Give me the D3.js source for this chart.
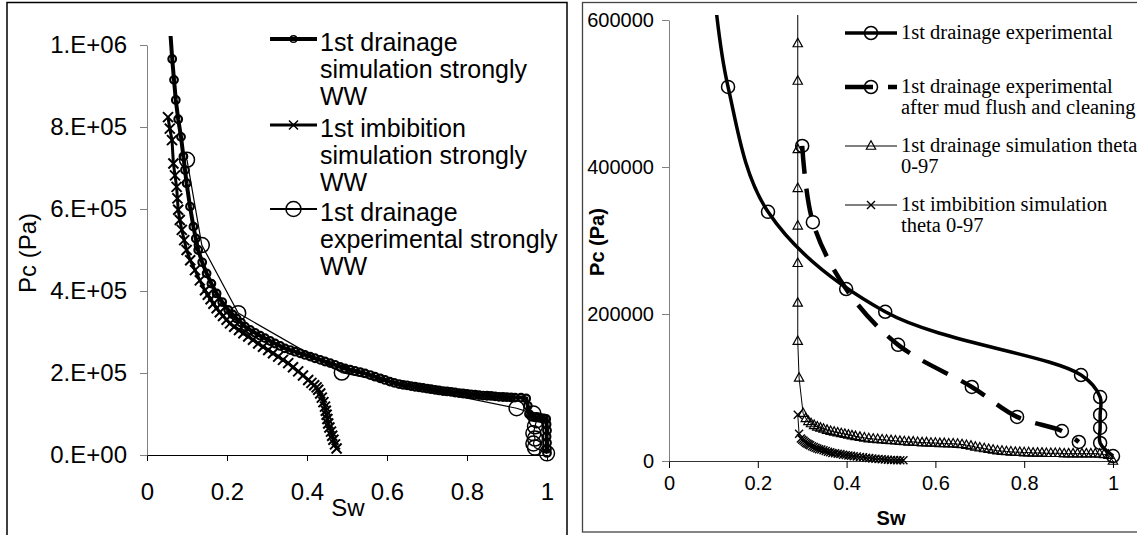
<!DOCTYPE html>
<html>
<head>
<meta charset="utf-8">
<script src="https://cdn.jsdelivr.net/npm/d3@7"></script>
<style>
  body { margin: 0; background: #fff; }
  svg { display: block; }
</style>
</head>
<body>
<script>
let width = 1137, height = 535

// ---- left chart (strongly water wet) ----
let leftXTicks = [0, 0.2, 0.4, 0.6, 0.8, 1]
let leftYTicks = [0, 200000, 400000, 600000, 800000, 1000000]
// [Sw, Pc]
let leftDrainSim = [
    [0.057, 1050000], [0.063, 966000], [0.0675, 915000], [0.072, 866000], [0.078, 819000],
    [0.085, 776000], [0.091, 728000], [0.095, 695000], [0.099, 663000], [0.1075, 606000],
    [0.116, 557000], [0.122, 528000], [0.128, 500000], [0.138, 470000], [0.149, 443000],
    [0.161, 418000], [0.174, 394000], [0.188, 373000], [0.203, 354000], [0.214, 343000],
    [0.224, 333000], [0.235, 323000], [0.245, 313000], [0.258, 305000], [0.27, 298000],
    [0.283, 291000], [0.295, 285000], [0.308, 278000], [0.32, 272000], [0.333, 266000],
    [0.345, 260000], [0.358, 256000], [0.37, 252000], [0.383, 248000], [0.395, 244000],
    [0.408, 240000], [0.42, 236000], [0.433, 232000], [0.445, 228000], [0.458, 224000],
    [0.47, 220000], [0.483, 215000], [0.495, 211000], [0.508, 208000], [0.52, 205000],
    [0.533, 202000], [0.545, 199000], [0.558, 195000], [0.57, 191000], [0.583, 187000],
    [0.595, 183000], [0.607, 179000], [0.618, 176000], [0.63, 173000], [0.64, 171000],
    [0.65, 170000], [0.66, 168000], [0.67, 166500], [0.68, 165000], [0.69, 163500],
    [0.70, 162000], [0.71, 160500], [0.72, 159000], [0.73, 157500], [0.74, 156000],
    [0.75, 155000], [0.76, 154000], [0.77, 152500], [0.78, 151000], [0.79, 150000],
    [0.80, 149000], [0.81, 148000], [0.82, 147000], [0.83, 146000], [0.84, 145000],
    [0.85, 144500], [0.86, 144000], [0.87, 143000], [0.88, 142000], [0.89, 141500],
    [0.90, 141000], [0.91, 140500], [0.92, 140000], [0.935, 140000], [0.948, 138000],
    [0.952, 120000], [0.955, 100000], [0.962, 94000], [0.97, 92000], [0.978, 91000],
    [0.985, 90000], [0.992, 89000], [0.998, 88000], [0.999, 75000], [1.0, 60000],
    [0.999, 45000], [1.0, 30000], [1.0, 15000], [1.0, 5000]
]
let leftImbSim = [
    [0.0525, 824000], [0.057, 796000], [0.0625, 768000], [0.066, 711000], [0.07, 682000],
    [0.074, 654000], [0.076, 626000], [0.078, 598000], [0.082, 573000], [0.087, 549000],
    [0.093, 524000], [0.099, 500000], [0.108, 475000], [0.12, 451000], [0.132, 426000],
    [0.145, 402000], [0.152, 391000], [0.159, 380000], [0.166, 369000], [0.174, 358000],
    [0.182, 348000], [0.19, 339000], [0.199, 330000], [0.2075, 321000], [0.218, 313000],
    [0.23, 305000], [0.241, 297000], [0.253, 289000], [0.265, 281000], [0.278, 272000],
    [0.29, 264000], [0.303, 256000], [0.315, 248000], [0.328, 240000], [0.34, 232000],
    [0.353, 224000], [0.365, 214000], [0.378, 204000], [0.39, 194000], [0.403, 183000],
    [0.411, 176000], [0.418, 170000], [0.424, 165000], [0.428, 159000], [0.433, 150000],
    [0.437, 140000], [0.441, 129000], [0.445, 118000], [0.447, 108000], [0.449, 98000],
    [0.451, 88000], [0.453, 77000], [0.456, 67000], [0.46, 57000], [0.463, 47000],
    [0.466, 37000], [0.47, 26000], [0.474, 16000]
]
let leftDrainExp = [
    [0.10, 720000], [0.137, 512000], [0.228, 346000], [0.487, 201000], [0.924, 114000],
    [0.966, 101000], [0.974, 85000], [0.97, 70000], [0.966, 53000], [0.97, 40000],
    [0.966, 28000], [0.97, 18000], [1.0, 4000]
]
let leftLegend = [
    ['1st drainage', 'simulation strongly', 'WW'],
    ['1st imbibition', 'simulation strongly', 'WW'],
    ['1st drainage', 'experimental strongly', 'WW']
]

// ---- right chart ----
let rightXTicks = [0, 0.2, 0.4, 0.6, 0.8, 1]
let rightYTicks = [0, 200000, 400000, 600000]
let rightDrainExp = [
    [0.1, 650000], [0.133, 509000], [0.223, 339000], [0.487, 203000], [0.928, 117000],
    [0.971, 87000], [0.971, 63000], [0.971, 45000], [0.971, 24500], [1.0, 6800]
]
let rightDrainMud = [
    [0.30, 428600], [0.324, 325000], [0.399, 234000], [0.516, 158000], [0.682, 100700],
    [0.784, 60000], [0.885, 40800], [0.923, 25900]
]
let rightDrainSim = [
    [0.29, 640000], [0.29, 568000], [0.29, 517000], [0.29, 424000], [0.29, 371000],
    [0.29, 320000], [0.29, 269000], [0.29, 215000], [0.29, 163000], [0.293, 113000],
    [0.302, 65000], [0.308, 58000], [0.314, 54000], [0.32, 51000], [0.327, 48500],
    [0.334, 46500], [0.341, 45000], [0.348, 43500], [0.356, 42000], [0.364, 40500],
    [0.372, 39500], [0.38, 38500], [0.388, 37500], [0.396, 36500], [0.404, 35500],
    [0.412, 34500], [0.42, 33500], [0.43, 32500], [0.44, 31500], [0.45, 30500],
    [0.46, 30000], [0.47, 29500], [0.48, 29000], [0.49, 28500], [0.50, 28000],
    [0.51, 27500], [0.52, 27000], [0.53, 26500], [0.54, 26000], [0.55, 26000],
    [0.56, 25500], [0.57, 25000], [0.58, 25000], [0.59, 24500], [0.60, 24500],
    [0.61, 24000], [0.62, 24000], [0.63, 23500], [0.64, 23500], [0.65, 23000],
    [0.66, 22500], [0.67, 21500], [0.68, 20500], [0.69, 19000], [0.70, 18000],
    [0.71, 17000], [0.72, 16000], [0.73, 15000], [0.74, 14000], [0.75, 13500],
    [0.76, 13000], [0.77, 12500], [0.78, 12000], [0.79, 12000], [0.80, 11500],
    [0.81, 11500], [0.82, 11000], [0.83, 11000], [0.84, 11000], [0.85, 10500],
    [0.86, 10500], [0.87, 10500], [0.88, 10500], [0.89, 10000], [0.90, 10000],
    [0.91, 10000], [0.92, 10000], [0.93, 10000], [0.94, 10000], [0.95, 10000],
    [0.96, 10000], [0.97, 9500], [0.98, 9000], [0.99, 8000], [1.0, 0]
]
let rightImbSim = [
    [0.29, 63000], [0.293, 37000], [0.297, 30500], [0.300, 29000], [0.303, 27500],
    [0.306, 26000], [0.309, 24500], [0.312, 23500], [0.315, 22500], [0.318, 21500],
    [0.322, 20000], [0.326, 19000], [0.330, 18000], [0.334, 17000], [0.338, 16000],
    [0.343, 15500], [0.348, 14500], [0.353, 13500], [0.358, 12500], [0.363, 12000],
    [0.368, 11000], [0.374, 10500], [0.380, 10000], [0.386, 9500], [0.392, 8500],
    [0.398, 8000], [0.404, 7500], [0.410, 7000], [0.416, 6500], [0.423, 6000],
    [0.430, 5500], [0.437, 5000], [0.444, 4500], [0.451, 4000], [0.458, 3500],
    [0.465, 3000], [0.472, 2700], [0.479, 2400], [0.486, 2000], [0.493, 1800],
    [0.500, 1500], [0.507, 1300], [0.514, 1100], [0.521, 1000], [0.528, 900]
]
let rightLegend = [
    ['1st drainage experimental'],
    ['1st drainage experimental', 'after mud flush and cleaning'],
    ['1st drainage simulation theta', '0-97'],
    ['1st imbibition simulation', 'theta 0-97']
]

let sans = 'Liberation Sans, Arial, sans-serif'
let serif = 'Liberation Serif, Times New Roman, serif'

let svg = d3.select('body').append('svg')
    .attr('width', width).attr('height', height)

let defs = svg.append('defs')
defs.append('clipPath').attr('id', 'clipL')
    .append('rect').attr('x', 140).attr('y', 36).attr('width', 420).attr('height', 440)
defs.append('clipPath').attr('id', 'clipR')
    .append('rect').attr('x', 660).attr('y', 15).attr('width', 470).attr('height', 460)

// panel borders
svg.append('rect').attr('x', 7).attr('y', 2.5).attr('width', 560).attr('height', 560)
    .attr('fill', 'none').attr('stroke', '#000').attr('stroke-width', 1.5)
svg.append('rect').attr('x', 582.5).attr('y', 2.5).attr('width', 600).attr('height', 529.5)
    .attr('fill', 'none').attr('stroke', '#444').attr('stroke-width', 1.3)

function sci(d) {
    if (d === 0) return '0.E+00'
    let e = Math.floor(Math.log10(d))
    let m = Math.round(d / Math.pow(10, e))
    return m + '.E+' + String(e).padStart(2, '0')
}

function marker(g, pts, m) {
    if (m.type === 'circle') {
        g.selectAll(null).data(pts).join('circle')
            .attr('cx', d => d[0]).attr('cy', d => d[1]).attr('r', m.r)
            .attr('fill', 'none').attr('stroke', '#000').attr('stroke-width', m.sw)
    } else {
        let s = m.s, p
        if (m.type === 'tri') p = `M0,${-s * 0.62}L${s * 0.55},${s * 0.38}L${-s * 0.55},${s * 0.38}Z`
        else p = `M${-s},${-s}L${s},${s}M${-s},${s}L${s},${-s}`
        g.selectAll(null).data(pts).join('path')
            .attr('transform', d => `translate(${d[0]},${d[1]})`).attr('d', p)
            .attr('fill', 'none').attr('stroke', '#000').attr('stroke-width', m.sw)
    }
}

function series(g, data, x, y, o) {
    let line = d3.line().x(d => x(d[0])).y(d => y(d[1])).curve(o.curve || d3.curveLinear)
    g.append('path').datum(data).attr('d', line)
        .attr('fill', 'none').attr('stroke', '#000').attr('stroke-width', o.w)
        .attr('stroke-dasharray', o.dash || null)
        .attr('clip-path', `url(#${o.clip})`)
    let pts = data.filter(d => d[1] <= o.ymax).map(d => [x(d[0]), y(d[1])])
    marker(g, pts, o.m)
}

function legendRow(g, x0, x1, yy, o) {
    g.append('line').attr('x1', x0).attr('x2', x1).attr('y1', yy).attr('y2', yy)
        .attr('stroke', '#000').attr('stroke-width', o.w).attr('stroke-dasharray', o.dash || null)
    marker(g, [[(x0 + x1) / 2, yy]], o.m)
}

// ================= LEFT =================
let xL = d3.scaleLinear().domain([0, 1]).range([147, 547])
let yL = d3.scaleLinear().domain([0, 1000000]).range([455, 45])

svg.append('g')
    .attr('transform', `translate(0, ${yL(0)})`)
    .call(d3.axisBottom(xL).tickValues(leftXTicks).tickFormat(d3.format('')).tickSize(6).tickPadding(22).tickSizeOuter(0))
    .call(g => g.select('.domain').attr('stroke', '#000'))
    .call(g => g.selectAll('text').attr('font-size', 24).attr('font-family', sans).attr('fill', '#000'))

svg.append('g')
    .attr('transform', `translate(${xL(0)}, 0)`)
    .call(d3.axisLeft(yL).tickValues(leftYTicks).tickFormat(sci).tickSize(7).tickPadding(13).tickSizeOuter(0))
    .call(g => g.select('.domain').attr('stroke', '#808080'))
    .call(g => g.selectAll('.tick line').attr('stroke', '#808080'))
    .call(g => g.selectAll('text').attr('font-size', 24).attr('font-family', sans).attr('fill', '#000'))

svg.append('text').attr('x', 348).attr('y', 516).attr('text-anchor', 'middle')
    .attr('font-family', sans).attr('font-size', 24).text('Sw')
svg.append('text').attr('transform', 'translate(36,253) rotate(-90)').attr('text-anchor', 'middle')
    .attr('font-family', sans).attr('font-size', 24).text('Pc (Pa)')

let leftOpts = [
    { w: 4, m: { type: 'circle', r: 3.8, sw: 2.2 } },
    { w: 3, m: { type: 'x', s: 5, sw: 2 } },
    { w: 1.2, m: { type: 'circle', r: 7.5, sw: 1.5 } }
]
let gL = svg.append('g')
series(gL, leftDrainExp, xL, yL, Object.assign({ clip: 'clipL', ymax: 1000000 }, leftOpts[2]))
series(gL, leftImbSim, xL, yL, Object.assign({ clip: 'clipL', ymax: 1000000 }, leftOpts[1]))
series(gL, leftDrainSim, xL, yL, Object.assign({ clip: 'clipL', ymax: 1000000 }, leftOpts[0]))

let legL = svg.append('g')
let legLY = [42, 128, 212]
leftLegend.forEach((lines, i) => {
    let o = Object.assign({}, leftOpts[i], { w: i === 0 ? 4 : i === 1 ? 3 : 2 })
    o.m = Object.assign({}, o.m, { sw: 1.5 }, i === 0 ? { r: 3.3 } : i === 1 ? { s: 4.5 } : {})
    legendRow(legL, 270, 317, legLY[i] - 3, o)
    lines.forEach((t, j) => {
        legL.append('text').attr('x', 320).attr('y', legLY[i] + j * 27 + 9)
            .attr('font-family', sans).attr('font-size', 25).text(t)
    })
})

// ================= RIGHT =================
let xR = d3.scaleLinear().domain([0, 1]).range([669, 1113])
let yR = d3.scaleLinear().domain([0, 600000]).range([461, 20])

svg.append('g')
    .attr('transform', `translate(0, ${yR(0)})`)
    .call(d3.axisBottom(xR).tickValues(rightXTicks).tickFormat(d3.format('')).tickSize(7).tickPadding(8).tickSizeOuter(0))
    .call(g => g.select('.domain').attr('stroke', '#333'))
    .call(g => g.selectAll('text').attr('font-size', 20).attr('font-family', sans).attr('fill', '#000'))

svg.append('g')
    .attr('transform', `translate(${xR(0)}, 0)`)
    .call(d3.axisLeft(yR).tickValues(rightYTicks).tickFormat(d3.format('d')).tickSize(7).tickPadding(8).tickSizeOuter(0))
    .call(g => g.select('.domain').attr('stroke', '#808080'))
    .call(g => g.selectAll('.tick line').attr('stroke', '#808080'))
    .call(g => g.selectAll('text').attr('font-size', 20).attr('font-family', sans).attr('fill', '#000'))

svg.append('text').attr('x', 891).attr('y', 525).attr('text-anchor', 'middle')
    .attr('font-family', sans).attr('font-size', 20).attr('font-weight', 'bold').text('Sw')
svg.append('text').attr('transform', 'translate(604,242) rotate(-90)').attr('text-anchor', 'middle')
    .attr('font-family', sans).attr('font-size', 20).attr('font-weight', 'bold').text('Pc (Pa)')

let rightOpts = [
    { w: 3.5, m: { type: 'circle', r: 6.5, sw: 1.5 }, curve: d3.curveCatmullRom.alpha(0.5) },
    { w: 4.5, dash: '28,15', m: { type: 'circle', r: 6.5, sw: 1.5 }, curve: d3.curveCatmullRom.alpha(0.5) },
    { w: 1, m: { type: 'tri', s: 8.5, sw: 1.2 } },
    { w: 1, m: { type: 'x', s: 4, sw: 1.4 } }
]
let gR = svg.append('g')
series(gR, rightImbSim, xR, yR, Object.assign({ clip: 'clipR', ymax: 600000 }, rightOpts[3]))
series(gR, rightDrainSim, xR, yR, Object.assign({ clip: 'clipR', ymax: 600000 }, rightOpts[2]))
series(gR, rightDrainMud, xR, yR, Object.assign({ clip: 'clipR', ymax: 600000 }, rightOpts[1]))
series(gR, rightDrainExp, xR, yR, Object.assign({ clip: 'clipR', ymax: 600000 }, rightOpts[0]))

let legR = svg.append('g')
let legRY = [33, 87, 146, 205]
rightLegend.forEach((lines, i) => {
    legendRow(legR, 845, 897, legRY[i], rightOpts[i])
    lines.forEach((t, j) => {
        legR.append('text').attr('x', 901).attr('y', legRY[i] + j * 21 + 6)
            .attr('font-family', serif).attr('font-size', 20.5).text(t)
    })
})
</script>
</body>
</html>
